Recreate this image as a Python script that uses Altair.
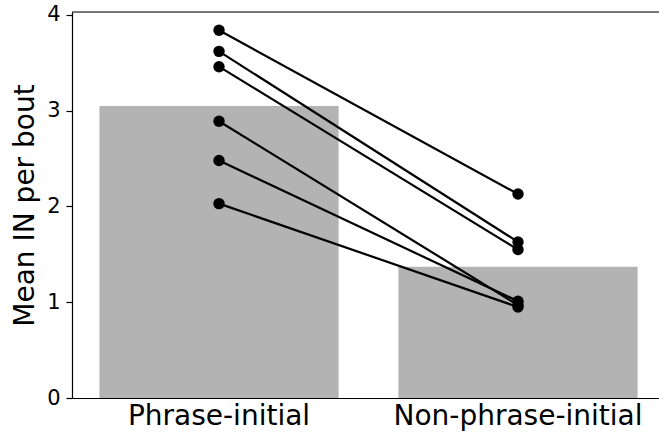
import altair as alt
import pandas as pd

# Conditions and their group means (bar heights)
conditions = ["Phrase-initial", "Non-phrase-initial"]
bar_means = [3.05, 1.37]

# Per-participant means, paired across the two conditions
subjects = ["S1", "S2", "S3", "S4", "S5", "S6"]
phrase_initial = [3.84, 3.62, 3.46, 2.89, 2.48, 2.03]
non_phrase_initial = [2.13, 1.63, 1.55, 0.97, 1.01, 0.95]

bars_df = pd.DataFrame({"condition": conditions, "mean": bar_means})
pairs_df = pd.DataFrame({
    "subject": subjects * 2,
    "condition": [conditions[0]] * len(subjects) + [conditions[1]] * len(subjects),
    "value": phrase_initial + non_phrase_initial,
})

FONT = "DejaVu Sans"
W, H = 587, 386

x_scale = alt.Scale(domain=conditions, range=[0, 593], paddingInner=0.2, paddingOuter=0.0917)
y_scale = alt.Scale(domain=[0, 4.031], nice=False, zero=True)

x_axis = alt.Axis(
    title=None, ticks=False, labelAngle=0, labelFontSize=28, labelFont=FONT,
    labelColor="black", labelPadding=4, labelLimit=0,
    domainColor="black", domainWidth=1.2,
)
y_axis = alt.Axis(
    values=[0, 1, 2, 3, 4], format="d", grid=False, tickSize=6, tickWidth=1.2,
    tickColor="black", labelFontSize=21, labelFont=FONT, labelColor="black",
    labelPadding=6, domainColor="black", domainWidth=1.2,
    title="Mean IN per bout", titleFontSize=28, titleFont=FONT,
    titleFontWeight="normal", titleColor="black",
    titleX=-39, titleY=H / 2, titleBaseline="alphabetic", titleAlign="center",
)

x_enc = alt.X("condition:N", scale=x_scale, axis=x_axis, sort=conditions)

bars = alt.Chart(bars_df).mark_bar(color="#b3b3b3").encode(
    x=x_enc,
    y=alt.Y("mean:Q", scale=y_scale, axis=y_axis),
)

lines = alt.Chart(pairs_df).mark_line(color="black", strokeWidth=2.2).encode(
    x=alt.X("condition:N", scale=x_scale, sort=conditions),
    y=alt.Y("value:Q", scale=y_scale),
    detail="subject:N",
)

points = alt.Chart(pairs_df).mark_circle(color="black", size=130, opacity=1).encode(
    x=alt.X("condition:N", scale=x_scale, sort=conditions),
    y=alt.Y("value:Q", scale=y_scale),
)

# top spine of the axes box
top_spine = alt.Chart(pd.DataFrame({"k": [0]})).mark_rule(
    color="black", strokeWidth=1.2
).encode(x=alt.value(0), x2=alt.value(W), y=alt.value(0))

chart = alt.layer(bars, lines, points, top_spine).properties(
    width=W, height=H,
    padding={"left": 72, "top": 12, "right": 0, "bottom": 36},
    autosize=alt.AutoSizeParams(type="none"),
).configure_view(stroke=None).configure(font=FONT)

chart.save("out.html", embed_options={"renderer": "svg", "actions": False})
